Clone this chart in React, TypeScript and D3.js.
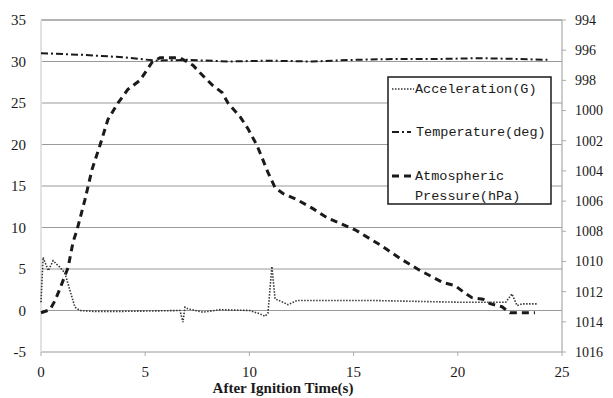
import React from 'react'
import * as d3 from 'd3'

// time axis (s)
const accTime = [0, 0.1, 0.35, 0.58, 0.91, 1.15, 1.39, 1.63, 1.87, 2.5, 4, 5.5, 6.67, 6.81, 6.91, 7.05, 7.77, 8.6, 10, 10.5, 10.75, 10.89, 11.08, 11.23, 11.61, 11.85, 12.28, 14, 16, 18, 20, 22.3, 22.6, 22.84, 23.08, 23.85]
const accValues = [1.0, 6.4, 4.8, 6.0, 5.2, 4.5, 2.4, 0.4, 0.0, -0.1, -0.1, -0.05, 0.0, -1.4, 0.4, 0.2, -0.2, 0.1, 0.0, -0.4, -0.7, -0.3, 5.3, 1.4, 1.0, 0.7, 1.2, 1.2, 1.2, 1.1, 1.0, 1.0, 2.0, 0.6, 0.8, 0.8]

const tempTime = [0, 2, 4, 5.5, 7, 9, 11, 13, 15, 17, 19, 21, 23, 24.3]
const tempValues = [31.0, 30.8, 30.5, 30.1, 30.2, 30.0, 30.1, 30.0, 30.2, 30.3, 30.3, 30.4, 30.3, 30.2]

const presTime = [0, 0.43, 0.67, 0.91, 1.3, 1.54, 1.73, 2.11, 2.45, 2.83, 3.21, 3.69, 4.17, 4.75, 5.33, 5.71, 6.67, 7.29, 7.63, 8.21, 8.69, 8.97, 9.55, 9.93, 10.36, 10.6, 10.89, 11.23, 11.61, 12.28, 13.05, 13.72, 15.07, 16.27, 17.23, 18.19, 19.29, 19.87, 20.25, 20.68, 21.21, 21.55, 22.12, 22.5, 23.7]
const presValues = [1013.4, 1013.2, 1012.6, 1011.8, 1010.4, 1008.7, 1007.9, 1005.9, 1003.9, 1002.3, 1000.6, 999.5, 998.6, 998.0, 996.8, 996.5, 996.5, 997.0, 997.5, 998.3, 998.8, 999.5, 1000.4, 1001.2, 1002.3, 1003.1, 1004.1, 1005.1, 1005.5, 1005.9, 1006.5, 1007.1, 1007.9, 1008.9, 1009.8, 1010.6, 1011.4, 1011.6, 1012.0, 1012.4, 1012.5, 1012.8, 1013.0, 1013.4, 1013.4]

const xTicks = [0, 5, 10, 15, 20, 25]
const leftTicks = [-5, 0, 5, 10, 15, 20, 25, 30, 35]
const rightTicks = [994, 996, 998, 1000, 1002, 1004, 1006, 1008, 1010, 1012, 1014, 1016]

const W = 613
const H = 398
const left = 41
const right = 562
const top = 20
const bottom = 352

const serif = 'Liberation Serif'
const mono = 'Liberation Mono'

export default function App() {
    const x = d3.scaleLinear().domain([0, 25]).range([left, right])
    const yL = d3.scaleLinear().domain([-5, 35]).range([bottom, top])
    const yR = d3.scaleLinear().domain([994, 1016]).range([top, bottom])

    const pairs = (t: number[], v: number[]) => t.map((d, i) => [d, v[i]] as [number, number])

    const lineL = d3.line<[number, number]>().x(d => x(d[0])).y(d => yL(d[1]))
    const lineR = d3.line<[number, number]>().x(d => x(d[0])).y(d => yR(d[1]))

    const ink = '#1a1a1a'
    const grid = '#9a9a9a'

    return (
        <svg width={W} height={H} style={{ position: 'absolute', left: 0, top: 0, background: '#fff' }}>
            {/* horizontal grid */}
            {leftTicks.map(t => (
                <line key={'g' + t} x1={left} x2={right} y1={yL(t)} y2={yL(t)}
                    stroke={grid} strokeWidth={t === 35 ? 1.4 : 1.2} />
            ))}
            {/* faint left edge */}
            <line x1={left} x2={left} y1={top} y2={bottom} stroke="#e2e2e2" strokeWidth={2} />
            {/* right axis */}
            <line x1={right} x2={right} y1={top} y2={bottom} stroke="#aaa" strokeWidth={1.2} />
            {rightTicks.map(t => (
                <line key={'rt' + t} x1={right} x2={right + 4} y1={yR(t)} y2={yR(t)} stroke="#aaa" />
            ))}
            {/* bottom ticks */}
            {xTicks.map(t => (
                <line key={'xt' + t} x1={x(t)} x2={x(t)} y1={bottom} y2={bottom + 4} stroke="#aaa" />
            ))}

            {/* left labels */}
            {leftTicks.map(t => (
                <text key={'l' + t} x={26} y={yL(t)} dy="0.35em" textAnchor="end"
                    fontFamily={serif} fontSize={15} fill={ink}>{t}</text>
            ))}
            {/* right labels */}
            {rightTicks.map(t => (
                <text key={'r' + t} x={575} y={yR(t)} dy="0.35em" textAnchor="start"
                    fontFamily={serif} fontSize={14} fill={ink}>{t}</text>
            ))}
            {/* bottom labels */}
            {xTicks.map(t => (
                <text key={'b' + t} x={x(t)} y={377} textAnchor="middle"
                    fontFamily={serif} fontSize={15} fill={ink}>{t}</text>
            ))}
            <text x={283} y={393} textAnchor="middle" fontFamily={serif} fontSize={15}
                fontWeight="bold" fill={ink}>After Ignition Time(s)</text>

            {/* series */}
            <path d={lineL(pairs(tempTime, tempValues)) || ''} fill="none" stroke={ink}
                strokeWidth={2} strokeDasharray="7,3,2,3" />
            <path d={lineR(pairs(presTime, presValues)) || ''} fill="none" stroke={ink}
                strokeWidth={3} strokeDasharray="7,5" />
            <path d={lineL(pairs(accTime, accValues)) || ''} fill="none" stroke="#333"
                strokeWidth={1.6} strokeDasharray="1.5,1.5" />

            {/* legend */}
            <rect x={388} y={77} width={163} height={127} fill="#fff" stroke={ink} strokeWidth={1.5} />
            <line x1={392} x2={414} y1={89} y2={89} stroke="#333" strokeWidth={1.6} strokeDasharray="1.5,1.5" />
            <text x={415} y={93} fontFamily={mono} fontSize={13.5} fill={ink}>Acceleration(G)</text>
            <line x1={392} x2={411} y1={132} y2={132} stroke={ink} strokeWidth={2} strokeDasharray="7,3,2,3" />
            <text x={416} y={136} fontFamily={mono} fontSize={13.5} fill={ink}>Temperature(deg)</text>
            <line x1={392} x2={414} y1={176} y2={176} stroke={ink} strokeWidth={3} strokeDasharray="7,5" />
            <text x={415} y={180} fontFamily={mono} fontSize={13.5} fill={ink}>Atmospheric</text>
            <text x={415} y={200} fontFamily={mono} fontSize={13.5} fill={ink}>Pressure(hPa)</text>
        </svg>
    )
}
